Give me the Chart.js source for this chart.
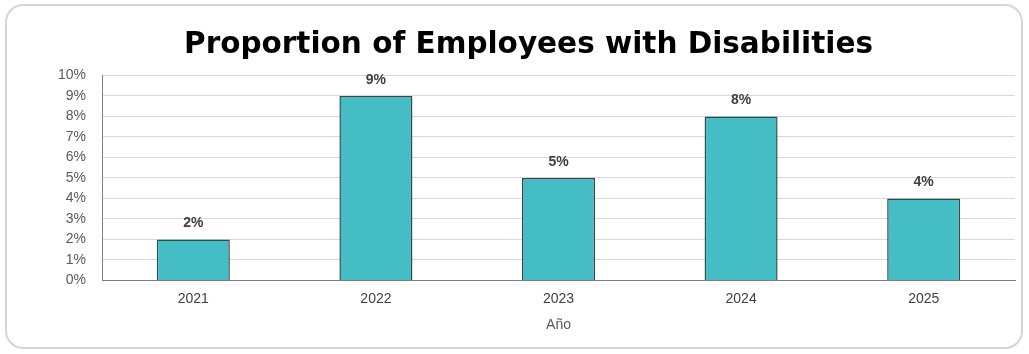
<!DOCTYPE html>
<html>
<head>
<meta charset="utf-8">
<script src="https://cdn.jsdelivr.net/npm/chart.js@4"></script>
<style>
  html, body { margin: 0; padding: 0; background: #ffffff; }
  .frame {
    position: absolute; left: 5px; top: 4px; width: 1014px; height: 341px;
    border: 2px solid #d6d6d6; border-radius: 18px; background: #fff;
  }
  .wrap { position: absolute; left: 0; top: 0; width: 1029px; height: 354px; }
</style>
</head>
<body>
<div class="frame"></div>
<div class="wrap"><canvas id="chart"></canvas></div>
<script>
const years = ['2021', '2022', '2023', '2024', '2025'];
const proportion = [2, 9, 5, 8, 4];
const yTicks = [0, 1, 2, 3, 4, 5, 6, 7, 8, 9, 10];

const barLabels = {
  id: 'barLabels',
  afterDatasetsDraw(chart) {
    const ctx = chart.ctx;
    const meta = chart.getDatasetMeta(0);
    ctx.save();
    ctx.font = 'bold 14px "Liberation Sans", Arial, sans-serif';
    ctx.fillStyle = '#404040';
    ctx.textAlign = 'center';
    ctx.textBaseline = 'bottom';
    meta.data.forEach((bar, i) => {
      ctx.fillText(proportion[i] + '%', bar.x, bar.y - 9);
    });
    ctx.restore();
  }
};

new Chart(document.getElementById('chart'), {
  type: 'bar',
  data: {
    labels: years,
    datasets: [{
      data: proportion,
      backgroundColor: '#45bdc5',
      borderColor: '#2f4a4c',
      borderWidth: 1.5,
      barPercentage: 0.4,
      categoryPercentage: 1
    }]
  },
  options: {
    responsive: true,
    maintainAspectRatio: false,
    animation: false,
    layout: { padding: { left: 42, right: 14, top: 8, bottom: 16 } },
    plugins: {
      legend: { display: false },
      tooltip: { enabled: false },
      title: {
        display: true,
        text: 'Proportion of Employees with Disabilities',
        color: '#000000',
        font: { family: '"DejaVu Sans", Arial, sans-serif', size: 29.5, weight: 'bold' },
        padding: { top: 20, bottom: 12 }
      }
    },
    scales: {
      x: {
        grid: { display: false, drawTicks: false },
        border: { color: '#7f7f7f', width: 1 },
        ticks: { color: '#404040', font: { family: '"Liberation Sans", Arial, sans-serif', size: 14 }, padding: 10 },
        title: { display: true, text: 'Año', color: '#595959', font: { family: '"Liberation Sans", Arial, sans-serif', size: 14 }, padding: { top: 0 } }
      },
      y: {
        min: 0,
        max: 10,
        afterBuildTicks(axis) { axis.ticks = yTicks.map(v => ({ value: v })); },
        grid: { color: '#d9d9d9', drawTicks: false },
        border: { color: '#7f7f7f', width: 1 },
        ticks: {
          autoSkip: false,
          color: '#595959',
          font: { family: '"Liberation Sans", Arial, sans-serif', size: 14 },
          padding: 16,
          callback: v => v + '%'
        }
      }
    }
  },
  plugins: [barLabels]
});
</script>
</body>
</html>
